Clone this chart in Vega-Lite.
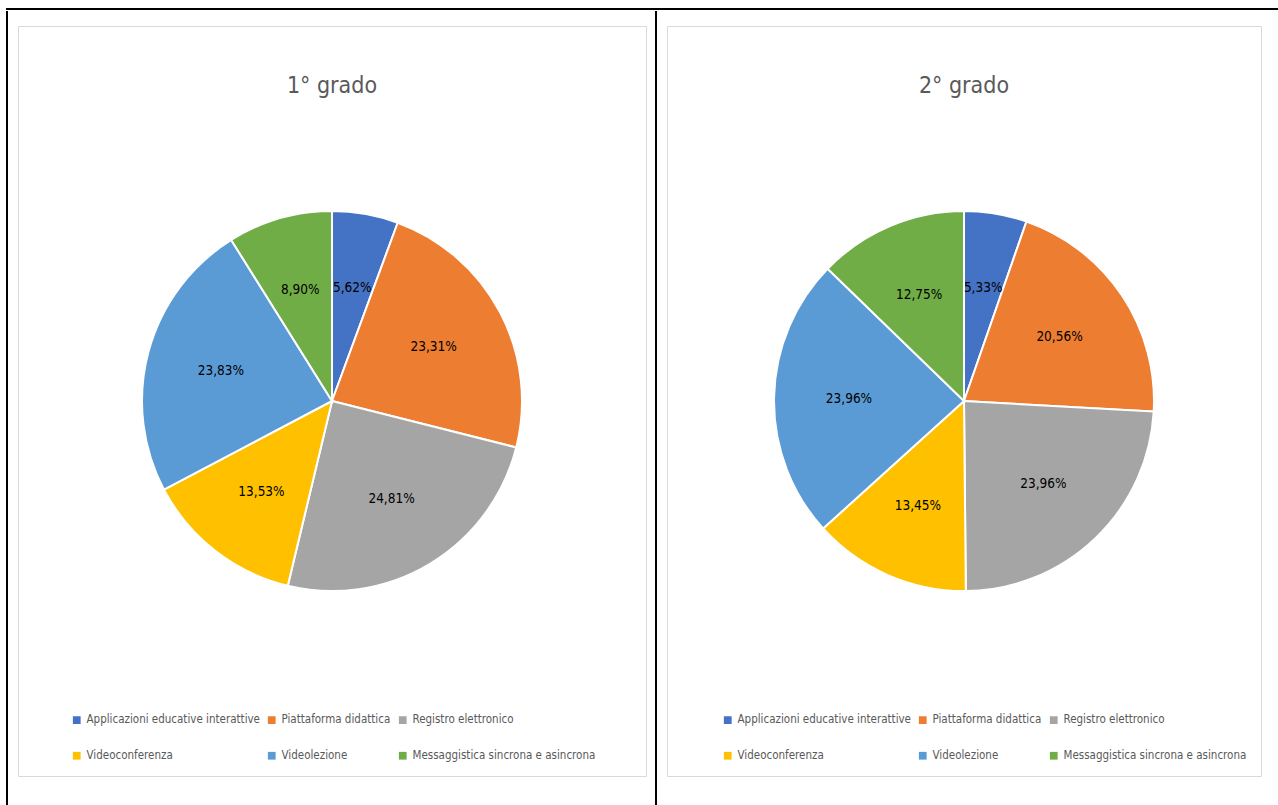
{
  "$schema": "https://vega.github.io/schema/vega-lite/v6.json",
  "padding": {"left": 6, "top": 8, "right": 0, "bottom": 0},
  "background": "white",
  "config": {
    "view": {"stroke": null},
    "font": "DejaVu Sans Condensed, sans-serif",
    "title": {"font": "DejaVu Sans Condensed, sans-serif", "fontSize": 23, "fontWeight": "normal", "color": "#595959"},
    "legend": {"labelFont": "DejaVu Sans Condensed, sans-serif"}
  },
  "datasets": {
    "primo": [
      {"cat": "Applicazioni educative interattive", "ord": 1, "pct": 5.62, "label": "5,62%"},
      {"cat": "Piattaforma didattica", "ord": 2, "pct": 23.31, "label": "23,31%"},
      {"cat": "Registro elettronico", "ord": 3, "pct": 24.81, "label": "24,81%"},
      {"cat": "Videoconferenza", "ord": 4, "pct": 13.53, "label": "13,53%"},
      {"cat": "Videolezione", "ord": 5, "pct": 23.83, "label": "23,83%"},
      {"cat": "Messaggistica sincrona e asincrona", "ord": 6, "pct": 8.90, "label": "8,90%"}
    ],
    "secondo": [
      {"cat": "Applicazioni educative interattive", "ord": 1, "pct": 5.33, "label": "5,33%"},
      {"cat": "Piattaforma didattica", "ord": 2, "pct": 20.56, "label": "20,56%"},
      {"cat": "Registro elettronico", "ord": 3, "pct": 23.96, "label": "23,96%"},
      {"cat": "Videoconferenza", "ord": 4, "pct": 13.45, "label": "13,45%"},
      {"cat": "Videolezione", "ord": 5, "pct": 23.96, "label": "23,96%"},
      {"cat": "Messaggistica sincrona e asincrona", "ord": 6, "pct": 12.75, "label": "12,75%"}
    ],
    "empty": []
  },
  "spacing": 0,
  "resolve": {"scale": {"color": "independent"}, "legend": {"color": "independent"}},
  "vconcat": [
    {
      "width": 1272, "height": 0.001,
      "data": {"name": "empty"},
      "mark": "text",
      "view": {"stroke": "black", "strokeWidth": 2}
    },
    {
      "spacing": 8,
      "resolve": {"scale": {"color": "independent"}, "legend": {"color": "independent"}},
      "hconcat": [
        {
          "width": 0.001, "height": 797,
          "data": {"name": "empty"},
          "mark": "text",
          "view": {"stroke": "black", "strokeWidth": 2}
        },
        {
          "spacing": 12,
          "resolve": {"scale": {"color": "independent"}, "legend": {"color": "independent"}},
          "vconcat": [
            {"width": 628, "height": 0.001, "data": {"name": "empty"}, "mark": "text"},
            {
              "width": 628, "height": 750,
              "view": {"stroke": "#d9d9d9", "strokeWidth": 1},
              "title": {"text": "1° grado", "offset": -72},
              "data": {"name": "primo"},
              "encoding": {
                "theta": {"field": "pct", "type": "quantitative", "stack": true},
                "order": {"field": "ord", "type": "ordinal"}
              },
              "layer": [
                {
                  "mark": {"type": "arc", "outerRadius": 190, "stroke": "white", "strokeWidth": 2},
                  "encoding": {
                    "color": {
                      "field": "cat", "type": "nominal",
                      "scale": {
                        "domain": ["Applicazioni educative interattive", "Piattaforma didattica", "Registro elettronico", "Videoconferenza", "Videolezione", "Messaggistica sincrona e asincrona"],
                        "range": ["#4472C4", "#ED7D31", "#A5A5A5", "#FFC000", "#5B9BD5", "#70AD47"]
                      },
                      "legend": {
                        "title": null, "orient": "none", "legendX": 53, "legendY": 688,
                        "direction": "horizontal", "columns": 3, "symbolType": "square",
                        "symbolSize": 60, "labelFontSize": 11.5, "labelColor": "#595959",
                        "labelLimit": 0, "columnPadding": 6, "rowPadding": 23, "symbolStrokeWidth": 0
                      }
                    }
                  }
                },
                {"mark": {"type": "text", "radius": 115, "fontSize": 13.5, "fill": "black"},
                 "encoding": {"text": {"field": "label"}}}
              ]
            }
          ]
        },
        {
          "width": 0.001, "height": 797,
          "data": {"name": "empty"},
          "mark": "text",
          "view": {"stroke": "black", "strokeWidth": 2}
        },
        {
          "spacing": 12,
          "resolve": {"scale": {"color": "independent"}, "legend": {"color": "independent"}},
          "vconcat": [
            {"width": 594, "height": 0.001, "data": {"name": "empty"}, "mark": "text"},
            {
              "width": 594, "height": 750,
              "view": {"stroke": "#d9d9d9", "strokeWidth": 1},
              "title": {"text": "2° grado", "offset": -72},
              "data": {"name": "secondo"},
              "encoding": {
                "theta": {"field": "pct", "type": "quantitative", "stack": true},
                "order": {"field": "ord", "type": "ordinal"}
              },
              "layer": [
                {
                  "mark": {"type": "arc", "outerRadius": 190, "stroke": "white", "strokeWidth": 2},
                  "encoding": {
                    "color": {
                      "field": "cat", "type": "nominal",
                      "scale": {
                        "domain": ["Applicazioni educative interattive", "Piattaforma didattica", "Registro elettronico", "Videoconferenza", "Videolezione", "Messaggistica sincrona e asincrona"],
                        "range": ["#4472C4", "#ED7D31", "#A5A5A5", "#FFC000", "#5B9BD5", "#70AD47"]
                      },
                      "legend": {
                        "title": null, "orient": "none", "legendX": 55, "legendY": 688,
                        "direction": "horizontal", "columns": 3, "symbolType": "square",
                        "symbolSize": 60, "labelFontSize": 11.5, "labelColor": "#595959",
                        "labelLimit": 0, "columnPadding": 6, "rowPadding": 23, "symbolStrokeWidth": 0
                      }
                    }
                  }
                },
                {"mark": {"type": "text", "radius": 115, "fontSize": 13.5, "fill": "black"},
                 "encoding": {"text": {"field": "label"}}}
              ]
            }
          ]
        }
      ]
    }
  ]
}
